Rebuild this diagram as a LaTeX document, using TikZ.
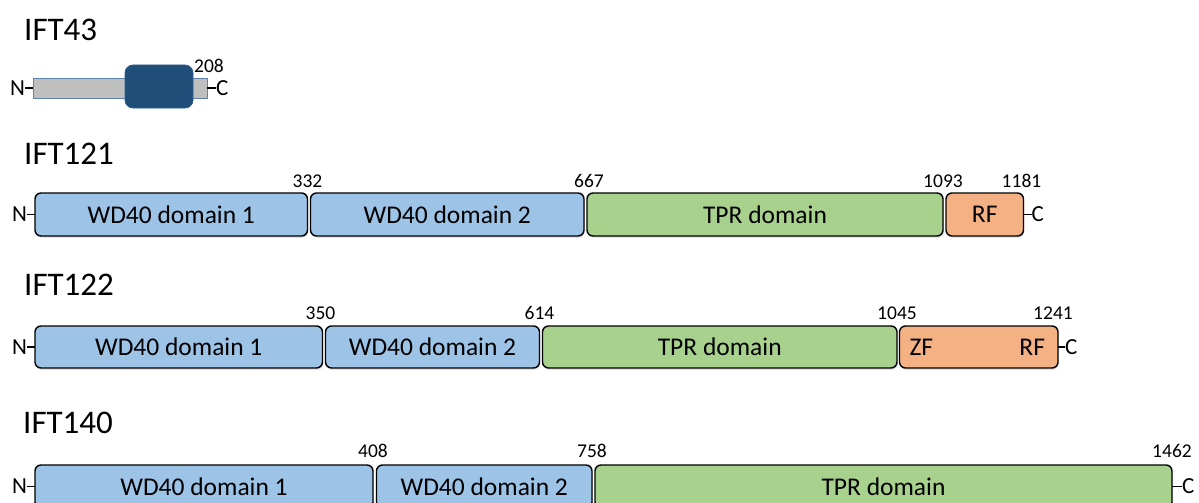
\documentclass[tikz,border=0pt]{standalone}
\usepackage{fontspec}
\setmainfont{Carlito}
\usetikzlibrary{positioning,shadows}
\definecolor{wdblue}{HTML}{9DC3E6}
\definecolor{tprgreen}{HTML}{A9D18E}
\definecolor{rforange}{HTML}{F4B183}
\definecolor{navy}{HTML}{1F4E79}
\definecolor{navyedge}{HTML}{2E5F8F}
\definecolor{bargray}{HTML}{BFBFBF}
\definecolor{baredge}{HTML}{5E84AD}

\begin{document}
\begin{tikzpicture}[x=1pt,y=-1pt,
  dom/.style={draw=black, line width=1.4pt, rounded corners=6pt, inner sep=0pt,
    outer sep=0pt, anchor=north west, font=\fontsize{25.5}{30}\selectfont,
    drop shadow={opacity=0.22, shadow xshift=0.8pt, shadow yshift=-1.8pt}},
  dlabel/.style={inner sep=0pt, outer sep=0pt, font=\fontsize{25.5}{30}\selectfont},
  title/.style={anchor=base west, inner sep=0pt, font=\fontsize{33}{38}\selectfont},
  term/.style={inner sep=0pt, outer sep=0pt, font=\fontsize{23}{28}\selectfont},
  num/.style={inner sep=0pt, anchor=south, font=\fontsize{19.5}{23}\selectfont},
  tick/.style={line width=1.1pt, black},
]
\useasboundingbox (0,0) rectangle (1199,503);
\clip (0,0) rectangle (1199,503);

% ---------------- IFT43 ----------------
\node[title] (t43) at (24,41) {IFT43};
\node[draw=baredge, fill=bargray, line width=0.9pt, minimum width=174pt,
  minimum height=20pt, inner sep=0pt, outer sep=0pt, anchor=north west] (g43) at (33,78) {};
\node[fill=navy, draw=navyedge, line width=0.8pt, rounded corners=8pt, minimum width=68pt,
  minimum height=43pt, inner sep=0pt, outer sep=0pt, anchor=north west] (k43) at (125,65) {};
\node[term, left=8pt of g43] (n43) {N};
\node[term, right=9pt of g43] (c43) {C};
\draw[tick] (n43) -- (g43);
\draw[tick] (g43) -- (c43);
\node[num] (e43) at ([xshift=2pt,yshift=5pt]g43.north east) {208};

% ---------------- IFT121 ----------------
\node[title] (t121) at (24,164) {IFT121};
\node[dom, fill=wdblue, minimum width=272.5pt, minimum height=43pt] (r1a) at (35,193) {WD40 domain 1};
\node[dom, fill=wdblue, minimum width=273.5pt, minimum height=43pt] (r1b) at (310.5,193) {WD40 domain 2};
\node[dom, fill=tprgreen, minimum width=356pt, minimum height=43pt] (r1c) at (587,193) {TPR domain};
\node[dom, fill=rforange, minimum width=77.5pt, minimum height=43pt] (r1d) at (946,193) {RF};
\node[term, left=8pt of r1a] (n121) {N};
\node[term, right=8pt of r1d] (c121) {C};
\draw[tick] (n121) -- (r1a);
\draw[tick] (r1d) -- (c121);
\node[num] (e121a) at ([yshift=5pt]r1a.north east) {332};
\node[num] (e121b) at ([xshift=5pt,yshift=5pt]r1b.north east) {667};
\node[num] (e121c) at ([yshift=5pt]r1c.north east) {1093};
\node[num] (e121d) at ([xshift=-2pt,yshift=5pt]r1d.north east) {1181};

% ---------------- IFT122 ----------------
\node[title] (t122) at (24,295) {IFT122};
\node[dom, fill=wdblue, minimum width=287.5pt, minimum height=42pt] (r2a) at (35,326) {WD40 domain 1};
\node[dom, fill=wdblue, minimum width=214pt, minimum height=42pt] (r2b) at (325.5,326) {WD40 domain 2};
\node[dom, fill=tprgreen, minimum width=354.5pt, minimum height=42pt] (r2c) at (542.5,326) {TPR domain};
\node[dom, fill=rforange, minimum width=158.5pt, minimum height=42pt] (r2d) at (899.5,326) {};
\node[dlabel, right=10pt of r2d.west] (zf122) {ZF};
\node[dlabel, left=13pt of r2d.east] (rf122) {RF};
\node[term, left=8pt of r2a] (n122) {N};
\node[term, right=7pt of r2d] (c122) {C};
\draw[tick] (n122) -- (r2a);
\draw[tick] (r2d) -- (c122);
\node[num] (e122a) at ([xshift=-2pt,yshift=6pt]r2a.north east) {350};
\node[num] (e122b) at ([yshift=6pt]r2b.north east) {614};
\node[num] (e122c) at ([yshift=6pt]r2c.north east) {1045};
\node[num] (e122d) at ([xshift=-5pt,yshift=6pt]r2d.north east) {1241};

% ---------------- IFT140 ----------------
\node[title] (t140) at (23,433) {IFT140};
\node[dom, fill=wdblue, minimum width=338pt, minimum height=43pt] (r3a) at (35,465) {WD40 domain 1};
\node[dom, fill=wdblue, minimum width=215.5pt, minimum height=43pt] (r3b) at (376.5,465) {WD40 domain 2};
\node[dom, fill=tprgreen, minimum width=577pt, minimum height=43pt] (r3c) at (595,465) {TPR domain};
\node[term, left=8pt of r3a] (n140) {N};
\node[term, right=10pt of r3c] (c140) {C};
\draw[tick] (n140) -- (r3a);
\draw[tick] (r3c) -- (c140);
\node[num] (e140a) at ([yshift=7pt]r3a.north east) {408};
\node[num] (e140b) at ([yshift=7pt]r3b.north east) {758};
\node[num] (e140c) at ([yshift=7pt]r3c.north east) {1462};
\end{tikzpicture}
\end{document}
